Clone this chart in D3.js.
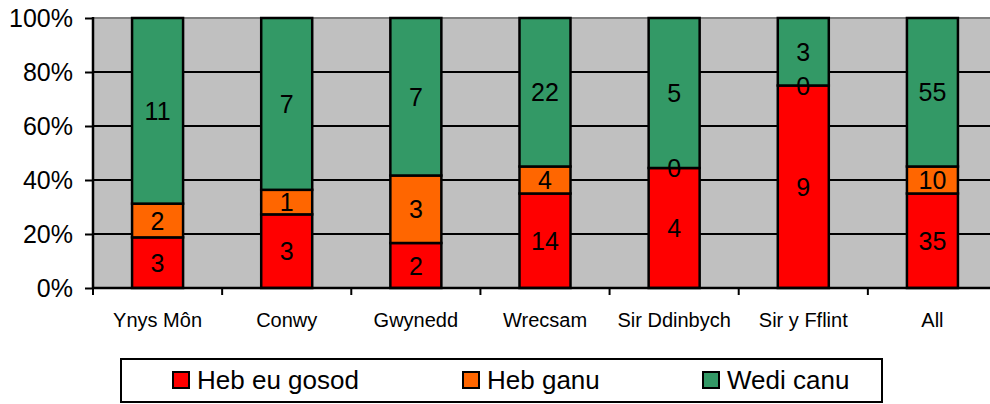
<!DOCTYPE html>
<html>
<head>
<meta charset="utf-8">
<script src="https://cdn.jsdelivr.net/npm/d3@7"></script>
<style>
  body { margin: 0; background: #fff; }
  text { font-family: "Liberation Sans", Arial, sans-serif; fill: #000; }
</style>
</head>
<body>
<div id="chart"></div>
<script>
// data
var categories = ["Ynys Môn", "Conwy", "Gwynedd", "Wrecsam", "Sir Ddinbych", "Sir y Fflint", "All"];
var hebEuGosod = [3, 3, 2, 14, 4, 9, 35];
var hebGanu = [2, 1, 3, 4, 0, 0, 10];
var wediCanu = [11, 7, 7, 22, 5, 3, 55];
var seriesNames = ["Heb eu gosod", "Heb ganu", "Wedi canu"];
var seriesColors = ["#ff0000", "#ff6600", "#339966"];
var yTicks = [0, 0.2, 0.4, 0.6, 0.8, 1];

var svgWidth = 990;
var svgHeight = 404;

var plot = { left: 93, right: 997, top: 18, bottom: 288 };

var svg = d3.select("#chart")
    .append("svg")
    .attr("width", svgWidth)
    .attr("height", svgHeight);

// build rows for the stack
var rows = categories.map(function (c, i) {
    return { cat: c, "Heb eu gosod": hebEuGosod[i], "Heb ganu": hebGanu[i], "Wedi canu": wediCanu[i] };
});

var stacked = d3.stack()
    .keys(seriesNames)
    .offset(d3.stackOffsetExpand)(rows);

var xScale = d3.scaleBand()
    .domain(categories)
    .range([plot.left, plot.right])
    .padding(0);

var yScale = d3.scaleLinear()
    .domain([0, 1])
    .range([plot.bottom, plot.top]);

var barW = xScale.bandwidth() * 0.395;

// plot background
svg.append("rect")
    .attr("x", plot.left)
    .attr("y", plot.top)
    .attr("width", svgWidth - plot.left)
    .attr("height", plot.bottom - plot.top)
    .attr("fill", "#c0c0c0");

// gridlines
svg.append("g")
    .selectAll("line")
    .data(yTicks.filter(function (t) { return t > 0 && t < 1; }))
    .enter()
    .append("line")
    .attr("x1", plot.left)
    .attr("x2", svgWidth)
    .attr("y1", d => yScale(d))
    .attr("y2", d => yScale(d))
    .attr("stroke", "#000")
    .attr("stroke-width", 2);

// top border
svg.append("line")
    .attr("x1", plot.left)
    .attr("x2", svgWidth)
    .attr("y1", yScale(1))
    .attr("y2", yScale(1))
    .attr("stroke", "#808080")
    .attr("stroke-width", 2);

// bars
var layers = svg.append("g")
    .selectAll("g")
    .data(stacked)
    .enter()
    .append("g")
    .attr("fill", (d, i) => seriesColors[i]);

layers.selectAll("rect")
    .data(d => d)
    .enter()
    .append("rect")
    .attr("x", d => xScale(d.data.cat) + (xScale.bandwidth() - barW) / 2)
    .attr("y", d => yScale(d[1]))
    .attr("width", barW)
    .attr("height", d => yScale(d[0]) - yScale(d[1]))
    .attr("stroke", "#000")
    .attr("stroke-width", 2.5);

// value labels
stacked.forEach(function (layer, si) {
    svg.append("g")
        .selectAll("text")
        .data(layer)
        .enter()
        .append("text")
        .attr("x", d => xScale(d.data.cat) + xScale.bandwidth() / 2)
        .attr("y", d => yScale((d[0] + d[1]) / 2))
        .attr("dy", "0.36em")
        .attr("text-anchor", "middle")
        .style("font-size", "25px")
        .text(d => d.data[layer.key]);
});

// y axis
var leftAxis = d3.axisLeft(yScale)
    .tickValues(yTicks)
    .tickSize(8)
    .tickFormat(d3.format(".0%"));

var yAxisG = svg.append("g")
    .attr("transform", `translate(${plot.left}, 0)`)
    .call(leftAxis);

yAxisG.select(".domain").remove();
yAxisG.selectAll("line").attr("stroke", "#000").attr("stroke-width", 2);
yAxisG.selectAll("text")
    .attr("x", -20)
    .style("font-size", "25px")
    .style("font-family", "'Liberation Sans', Arial, sans-serif");

svg.append("line")
    .attr("x1", plot.left)
    .attr("x2", plot.left)
    .attr("y1", plot.top - 1)
    .attr("y2", plot.bottom + 1)
    .attr("stroke", "#000")
    .attr("stroke-width", 2.5);

// x axis
svg.append("line")
    .attr("x1", plot.left)
    .attr("x2", svgWidth)
    .attr("y1", plot.bottom)
    .attr("y2", plot.bottom)
    .attr("stroke", "#000")
    .attr("stroke-width", 2.5);

svg.append("g")
    .selectAll("line")
    .data(categories)
    .enter()
    .append("line")
    .attr("x1", d => xScale(d))
    .attr("x2", d => xScale(d))
    .attr("y1", plot.bottom)
    .attr("y2", plot.bottom + 7)
    .attr("stroke", "#000")
    .attr("stroke-width", 2);

svg.append("g")
    .selectAll("text")
    .data(categories)
    .enter()
    .append("text")
    .attr("x", d => xScale(d) + xScale.bandwidth() / 2)
    .attr("y", 327)
    .attr("text-anchor", "middle")
    .style("font-size", "20px")
    .text(d => d);

// legend
var legend = svg.append("g");

legend.append("rect")
    .attr("x", 121)
    .attr("y", 359)
    .attr("width", 761)
    .attr("height", 43)
    .attr("fill", "#fff")
    .attr("stroke", "#000")
    .attr("stroke-width", 2);

var legendX = [173, 463, 703];

seriesNames.forEach(function (name, i) {
    legend.append("rect")
        .attr("x", legendX[i])
        .attr("y", 372)
        .attr("width", 16)
        .attr("height", 16)
        .attr("fill", seriesColors[i])
        .attr("stroke", "#000")
        .attr("stroke-width", 2);
    legend.append("text")
        .attr("x", legendX[i] + 24)
        .attr("y", 389)
        .style("font-size", "26px")
        .text(name);
});
</script>
</body>
</html>
